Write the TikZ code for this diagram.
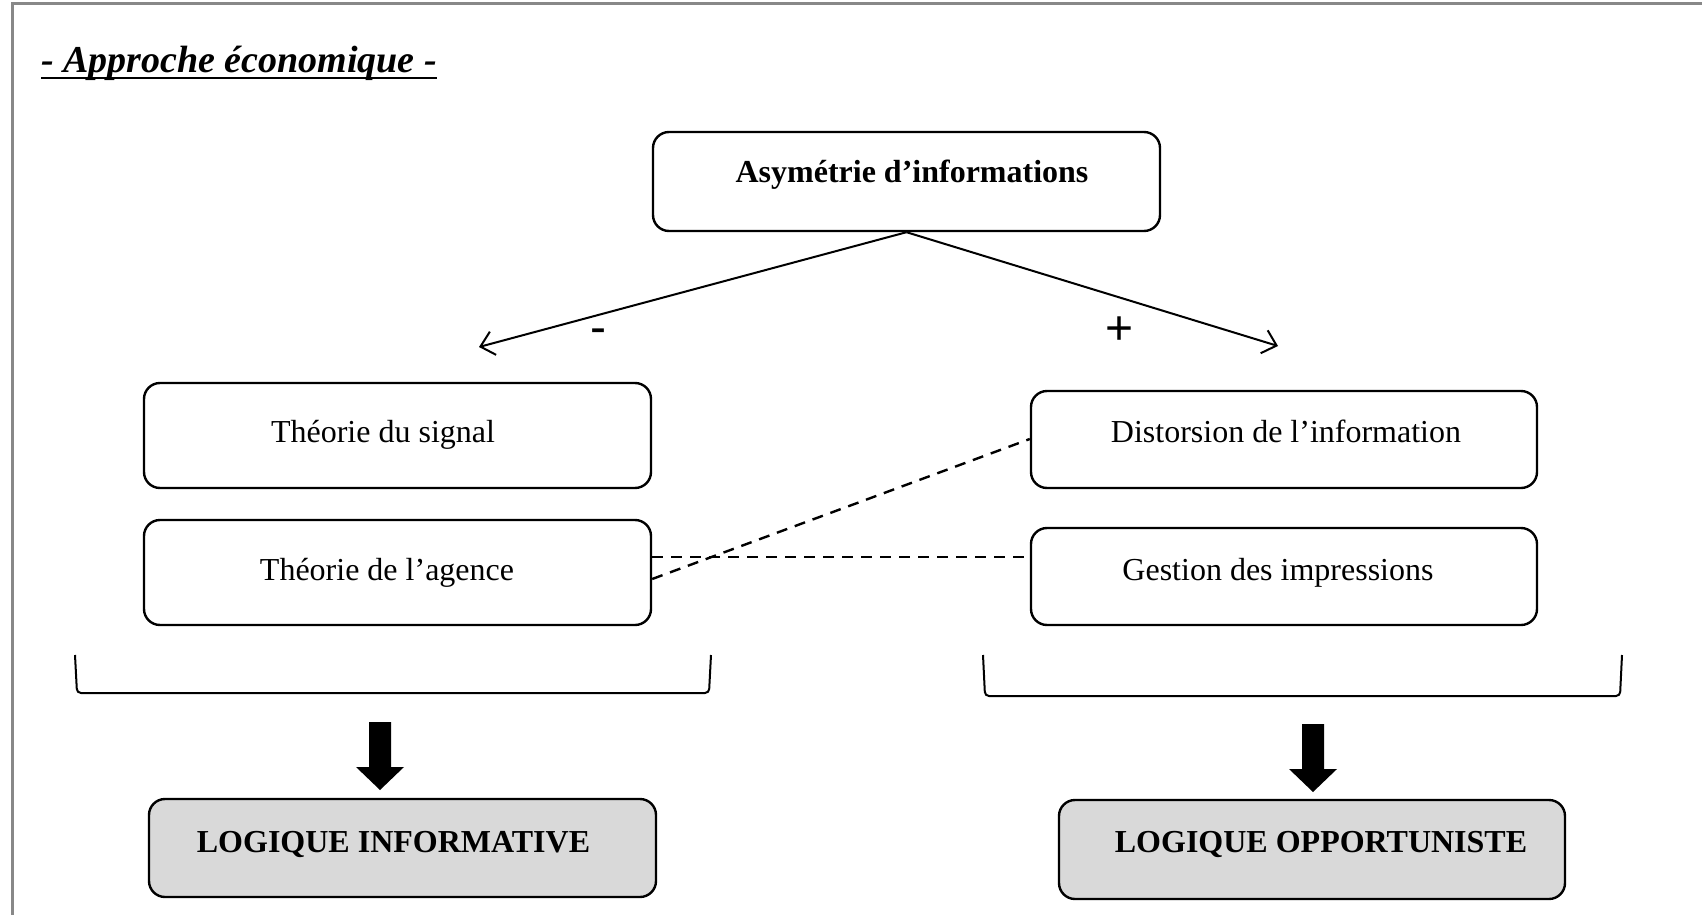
\documentclass[tikz,border=0pt]{standalone}
\usepackage{fontspec}
\setmainfont{Liberation Serif}
\newfontfamily\plusfont{Liberation Sans}
\usetikzlibrary{arrows.meta}
\definecolor{framegray}{HTML}{888888}
\definecolor{boxgray}{HTML}{D9D9D9}
\begin{document}
\begin{tikzpicture}[x=1pt,y=-1pt,
  roundbox/.style={draw=black,line width=2.4pt,rounded corners=16pt,rectangle,inner sep=0pt},
  graybox/.style={roundbox,fill=boxgray},
  txt/.style={anchor=base,inner sep=0pt,font=\fontsize{32}{38}\selectfont},
  btxt/.style={txt,font=\fontsize{32}{38}\selectfont\bfseries},
  sign/.style={inner sep=0pt,font=\plusfont\fontsize{48}{56}\selectfont},
  thinarrow/.style={line width=2pt,-{Straight Barb[length=13pt,width=24pt,line width=2pt]}},
  dashline/.style={line width=2.4pt,dash pattern=on 11pt off 8pt},
  bracket/.style={line width=2pt,rounded corners=4pt},
  blockarrow/.style={fill=black}
]
\useasboundingbox (0,0) rectangle (1702,915);
% frame
\draw[framegray,line width=3pt] (12,915) -- (12,4) -- (1702,4);
% title
\node[anchor=base west,inner sep=0pt,font=\fontsize{38}{44}\selectfont\bfseries\itshape] (title) at (41,73) {- Approche économique -};
\draw[line width=2.6pt] ([yshift=-5pt]title.base west) -- ([yshift=-5pt]title.base east);
% boxes
\node[roundbox,minimum width=507pt,minimum height=99pt] (asym) at (906.5,181.5) {};
\node[btxt] (asymt) at (912,182) {Asymétrie d’informations};
\node[roundbox,minimum width=507pt,minimum height=105pt] (sig) at (397.5,435.5) {};
\node[txt] (sigt) at (383,442) {Théorie du signal};
\node[roundbox,minimum width=507pt,minimum height=105pt] (age) at (397.5,572.5) {};
\node[txt] (aget) at (387,580) {Théorie de l’agence};
\node[roundbox,minimum width=506pt,minimum height=97pt] (dis) at (1284,439.5) {};
\node[txt] (dist) at (1286,442) {Distorsion de l’information};
\node[roundbox,minimum width=506pt,minimum height=97pt] (ges) at (1284,576.5) {};
\node[txt] (gest) at (1278,580) {Gestion des impressions};
\node[graybox,minimum width=507pt,minimum height=98pt] (li) at (402.5,848) {};
\node[btxt] (lit) at (393.5,852) {LOGIQUE INFORMATIVE};
\node[graybox,minimum width=506pt,minimum height=99pt] (lo) at (1312,849.5) {};
\node[btxt] (lot) at (1321,852) {LOGIQUE OPPORTUNISTE};
% arrows from top box
\coordinate (tipL) at (479,347);
\coordinate (tipR) at (1278,346);
\draw[thinarrow] (asym.south) -- (tipL);
\draw[thinarrow] (asym.south) -- (tipR);
\node[sign] (minus) at (598,336) {-};
\node[sign] (plus) at (1120,331) {+};
% dashed links
\draw[dashline] (age.east |- 0,557) -- (ges.west |- 0,557);
\draw[dashline] (age.east |- 0,579) -- (dis.west |- 0,439);
% brackets
\draw[bracket] (75,655) -- (77,693) -- (709,693) -- (711,655);
\draw[bracket] (983,655) -- (985,696) -- (1620,696) -- (1622,655);
% block arrows
\fill[blockarrow] (369,722) -- (391,722) -- (391,767) -- (404,767) -- (380,790) -- (356,767) -- (369,767) -- cycle;
\fill[blockarrow] (1302,724) -- (1324,724) -- (1324,769) -- (1337,769) -- (1313,792) -- (1289,769) -- (1302,769) -- cycle;
\end{tikzpicture}
\end{document}
